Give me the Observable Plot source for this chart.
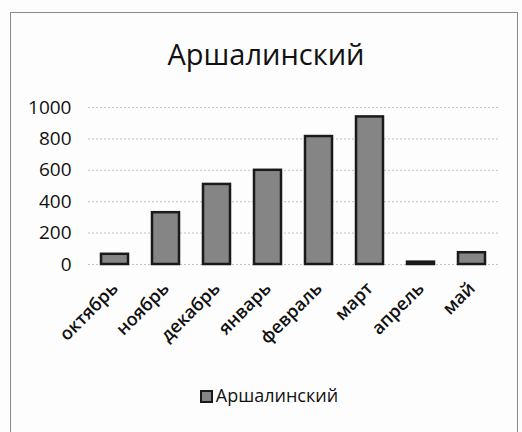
<!DOCTYPE html>
<html>
<head>
<meta charset="utf-8">
<script src="https://cdn.jsdelivr.net/npm/d3@7"></script>
<script src="https://cdn.jsdelivr.net/npm/@observablehq/plot@0.6"></script>
<style>
  body { margin: 0; background: #fff; }
  #wrap { position: relative; width: 522px; height: 432px; background: #fdfdfd; overflow: hidden; font-family: "Open Sans", sans-serif; }
  #frame { position: absolute; left: 10px; top: 12px; width: 508px; height: 420px; border: 1.5px solid #8a8a8a; box-sizing: border-box; border-bottom: none; }
  #title { position: absolute; left: 5px; width: 522px; top: 34px; text-align: center; font-size: 29px; color: #111; }
  #chart { position: absolute; left: 0; top: 90px; }
  #legend { position: absolute; left: 8px; width: 522px; top: 383px; text-align: center; font-size: 18px; font-weight: 500; color: #111; }
  #legend .sw { display: inline-block; width: 9px; height: 9px; background: #858585; border: 2px solid #1a1a1a; vertical-align: middle; margin-right: 3px; position: relative; top: -1px; }
</style>
</head>
<body>
<div id="wrap">
  <div id="frame"></div>
  <div id="title">Аршалинский</div>
  <div id="chart"></div>
  <div id="legend"><span class="sw"></span>Аршалинский</div>
</div>
<script>
const months = ["октябрь", "ноябрь", "декабрь", "январь", "февраль", "март", "апрель", "май"];
const values = [65, 330, 510, 600, 815, 940, 15, 75];
const yTicks = [0, 200, 400, 600, 800, 1000];
const seriesName = "Аршалинский";

const data = months.map((m, i) => ({month: m, value: values[i]}));

const chart = Plot.plot({
  width: 522,
  height: 260,
  marginTop: 17,
  marginBottom: 86,
  marginLeft: 88,
  marginRight: 24,
  style: {fontFamily: "Open Sans, sans-serif", background: "transparent", color: "#111"},
  x: {domain: months, paddingInner: 0.47, paddingOuter: 0.235, label: null},
  y: {domain: [0, 1000], label: null},
  marks: [
    Plot.gridY(yTicks, {stroke: "#aaa", strokeOpacity: 0.7, strokeDasharray: "2,2"}),
    Plot.barY(data, {x: "month", y: "value", fill: "#858585", stroke: "#1a1a1a", strokeWidth: 2.5, title: d => `${seriesName}: ${d.value}`}),
    Plot.axisY({ticks: yTicks, tickFormat: "d", tickSize: 0, tickPadding: 17, fontSize: 19, fontWeight: 500, label: null}),
    Plot.axisX({tickSize: 0, tickRotate: -45, tickPadding: 21, fontSize: 18, fontWeight: 600, label: null})
  ]
});
document.getElementById("chart").appendChild(chart);
</script>
</body>
</html>
